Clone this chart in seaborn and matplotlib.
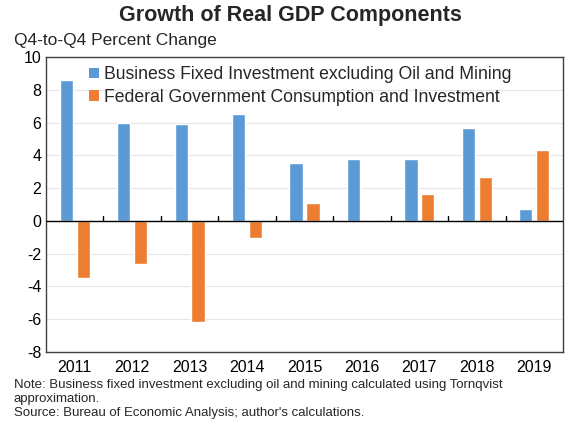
import numpy as np
import pandas as pd
import seaborn as sns
import matplotlib
matplotlib.use('agg')
import matplotlib.pyplot as plt
from matplotlib.patches import Patch

years = ['2011', '2012', '2013', '2014', '2015', '2016', '2017', '2018', '2019']
business = [8.6, 5.95, 5.9, 6.5, 3.55, 3.75, 3.75, 5.65, 0.7]
federal = [-3.5, -2.6, -6.15, -1.05, 1.1, 0.05, 1.65, 2.65, 4.3]
series_names = ['Business Fixed Investment excluding Oil and Mining',
                'Federal Government Consumption and Investment']
colors = ['#5b9bd5', '#ed7d31']

df = pd.DataFrame({
    'year': years * 2,
    'value': business + federal,
    'series': [series_names[0]] * len(years) + [series_names[1]] * len(years),
})

sns.set_style('white')
plt.rcParams['font.family'] = ['Liberation Sans', 'DejaVu Sans']
plt.rcParams['axes.unicode_minus'] = False

fig = plt.figure(figsize=(5.76, 4.34), dpi=100)
ax = fig.add_axes([46 / 576, 1 - 352 / 434, (563 - 46) / 576, (352 - 57) / 434])

sns.barplot(data=df, x='year', y='value', hue='series', palette=colors,
            width=0.59, gap=0.22, saturation=1, ax=ax, legend=False)

ax.set_ylim(-8, 10)
ax.set_xlim(-0.5, len(years) - 0.5)
ax.set_yticks(range(-8, 11, 2))
ax.yaxis.grid(True, color='#e6e6e6', linewidth=0.8)
ax.set_axisbelow(True)
ax.axhline(0, color='black', linewidth=1.0, zorder=3)
# small ticks on the zero line between categories
for b in np.arange(0.5, len(years) - 1, 1.0):
    ax.plot([b, b], [0, 0.3], color='black', linewidth=1.0, zorder=3)
for s in ax.spines.values():
    s.set_color('#404040')
    s.set_linewidth(1.0)
ax.tick_params(axis='both', length=0, labelsize=11.5, colors='black')
ax.tick_params(axis='x', pad=6)
ax.set_xlabel('')
ax.set_ylabel('')

handles = [Patch(facecolor=c, edgecolor='none') for c in colors]
ax.legend(handles, series_names, loc='upper left', bbox_to_anchor=(0.06, 1.01),
          frameon=False, fontsize=12.7, handlelength=0.55, handleheight=0.55,
          handletextpad=0.3, labelspacing=0.3, borderaxespad=0.3)

fig.text(0.505, 1 - 15 / 434, 'Growth of Real GDP Components', ha='center', va='center',
         fontsize=15.5, fontweight='bold')
fig.text(14 / 576, 1 - 40 / 434, 'Q4-to-Q4 Percent Change', ha='left', va='center', fontsize=12.5)
fig.text(14 / 576, 1 - 379 / 434,
         "Note: Business fixed investment excluding oil and mining calculated using Tornqvist\n"
         "approximation.\nSource: Bureau of Economic Analysis; author's calculations.",
         ha='left', va='top', fontsize=9.5, linespacing=1.22)

fig.savefig('out.png', dpi=100)
